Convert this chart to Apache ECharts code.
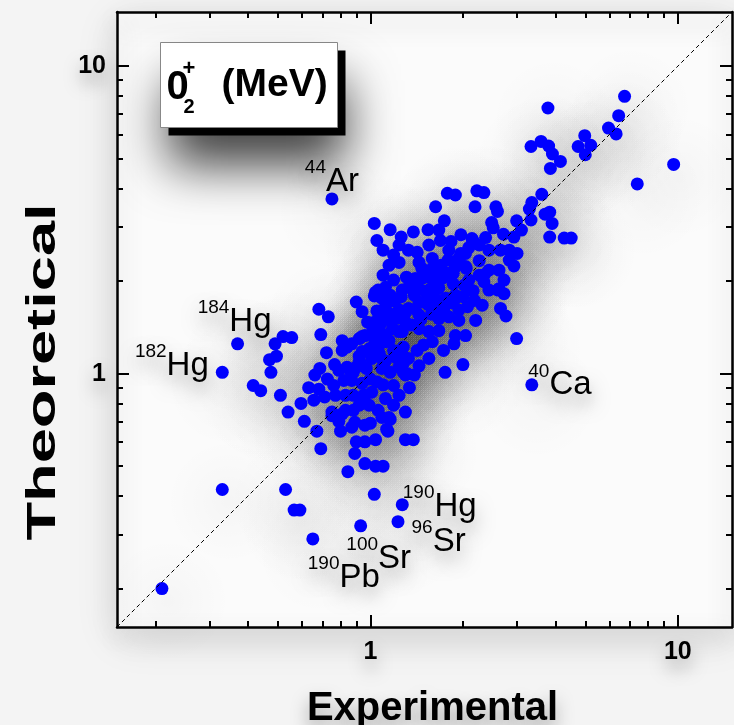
<!DOCTYPE html>
<html>
<head>
<meta charset="utf-8">
<title>0+2 energies: theoretical vs experimental</title>
<script src="https://cdn.jsdelivr.net/npm/echarts@6/dist/echarts.min.js"></script>
<style>
  html, body { margin: 0; padding: 0; background: #f4f4f4; }
  #chart { width: 734px; height: 725px; }
</style>
</head>
<body>
<div id="chart"></div>
<script>
// experimental / theoretical 0+2 energies (MeV), same order in both arrays
// first 8 entries are the labelled nuclei
const experimental = [
  0.75, 0.33, 0.37, 3.35, 1.27, 1.23, 0.93, 0.65, 0.21, 0.33,
  0.53, 0.565, 0.59, 1.03, 6.71, 3.78, 6.42, 5.95, 6.30, 4.98,
  4.74, 5.21, 5.00, 3.33, 3.59, 3.80, 3.91, 4.15, 3.85, 9.69,
  7.38, 3.61, 3.35, 3.29, 3.70, 3.83, 3.90, 3.33, 2.99, 3.10,
  2.71, 2.93, 3.83, 4.27, 4.50, 1.78, 1.89, 2.22, 2.34, 1.63,
  2.19, 2.56, 2.59, 1.74, 2.48, 2.51, 1.16, 1.26, 1.38, 1.54,
  1.67, 1.97, 2.14, 2.37, 1.03, 1.05, 1.83, 1.69, 2.15, 2.65,
  2.83, 3.00, 2.43, 2.26, 2.09, 2.04, 1.97, 1.94, 1.42, 1.59,
  1.79, 2.26, 2.83, 2.93, 1.47, 1.59, 2.04, 1.89, 1.31, 1.40,
  1.67, 1.78, 2.34, 1.86, 2.02, 2.62, 1.33, 1.44, 1.55, 2.11,
  1.12, 1.04, 1.27, 2.60, 2.72, 2.65, 2.76, 2.31, 2.20, 2.07,
  1.80, 1.67, 1.89, 2.04, 1.87, 1.59, 1.42, 1.28, 1.44, 1.55,
  1.30, 1.33, 1.44, 1.51, 1.59, 1.76, 1.89, 1.27, 2.99, 2.00,
  1.75, 1.34, 1.30, 1.38, 1.24, 1.28, 1.32, 1.14, 1.15, 1.10,
  0.49, 0.52, 0.555, 0.47, 0.495, 0.475, 0.416, 0.44, 0.51, 0.54,
  0.595, 0.61, 0.67, 0.69, 0.845, 0.68, 0.73, 0.69, 0.72, 0.765,
  0.685, 0.66, 0.725, 0.63, 0.68, 0.655, 0.71, 0.77, 0.75, 0.79,
  0.83, 0.80, 0.87, 0.90, 0.94, 1.03, 0.81, 0.87, 0.94, 0.84,
  0.90, 0.97, 0.90, 0.96, 1.04, 0.89, 0.96, 1.04, 0.84, 0.81,
  0.98, 1.09, 1.16, 1.06, 0.92, 0.96, 1.03, 0.88, 0.92, 0.94,
  1.00, 1.06, 1.12, 1.03, 1.08, 1.15, 1.21, 1.24, 1.18, 1.04,
  1.09, 0.87, 0.94, 1.00, 1.05, 0.83, 0.88, 0.96, 1.01, 1.09,
  1.16, 1.30, 1.10, 1.12, 1.27, 1.21, 0.75, 0.81, 0.88, 0.89,
  0.96, 1.00, 1.09, 1.16, 1.13, 1.30,
  1.10, 1.19, 1.15, 1.24, 1.10, 1.19, 1.44, 1.55, 1.67, 1.19,
  1.24, 1.39, 1.44, 1.55, 1.67, 1.73, 1.94, 1.94, 1.67, 1.49,
  1.73, 1.15, 1.19, 1.33, 1.44, 1.55, 1.10, 1.39, 1.19, 1.24,
  0.99, 1.06, 1.19, 0.95, 0.92, 0.82, 0.79, 0.76, 2.09, 2.26,
  2.43, 2.43, 2.18, 1.87, 2.62, 2.72, 1.80, 1.55, 1.33, 1.24,
  1.05, 1.12, 1.20, 1.26, 1.35, 1.48, 1.62, 1.70, 1.02, 1.08,
  1.14, 1.22, 1.30, 1.40, 1.52, 1.60, 0.98, 1.05, 1.13, 1.36,
  1.46, 1.58, 1.68, 1.84, 2.00, 2.16, 2.35, 1.12, 1.20, 1.28,
  0.92, 0.99, 1.07, 0.86, 0.93, 1.01, 1.60, 1.72, 1.86, 2.05
];
const theoretical = [
  3.70, 1.01, 1.25, 0.92, 0.375, 0.33, 0.32, 0.29, 0.20, 0.42,
  0.42, 0.36, 0.36, 0.405, 7.98, 7.31, 6.90, 6.29, 6.02, 5.94,
  5.48, 5.53, 5.15, 5.48, 5.69, 5.50, 5.18, 4.90, 4.65, 4.79,
  4.14, 3.83, 3.60, 3.43, 3.30, 3.35, 3.08, 3.16, 3.14, 2.93,
  2.84, 2.78, 2.78, 2.76, 2.76, 3.86, 3.81, 3.93, 3.88, 3.49,
  3.49, 3.49, 3.37, 3.14, 3.10, 2.98, 2.94, 2.78, 2.89, 2.94,
  2.93, 2.83, 2.75, 2.77, 3.08, 2.71, 2.69, 2.71, 2.72, 2.52,
  2.52, 2.46, 2.52, 2.62, 2.57, 2.46, 2.46, 2.37, 2.48, 2.37,
  2.34, 2.33, 2.34, 2.24, 2.20, 2.20, 2.23, 2.23, 2.06, 2.04,
  2.06, 2.12, 1.99, 1.96, 1.94, 1.89, 1.91, 1.89, 1.87, 1.87,
  1.91, 1.84, 1.87, 1.87, 1.82, 1.63, 1.54, 1.67, 1.49, 1.65,
  1.53, 1.51, 1.33, 1.33, 1.25, 1.27, 1.19, 1.22, 1.40, 1.37,
  1.47, 1.63, 1.71, 1.85, 1.63, 1.76, 1.80, 1.37, 1.30, 1.07,
  1.01, 0.90, 0.75, 0.61, 1.05, 1.01, 1.00, 0.65, 0.72, 0.50,
  1.25, 1.32, 1.31, 1.11, 1.14, 1.01, 0.915, 0.88, 0.85, 0.75,
  0.80, 0.70, 0.65, 0.57, 0.48, 1.62, 1.53, 1.34, 1.17, 1.07,
  1.04, 0.99, 0.96, 0.90, 0.89, 0.82, 0.84, 0.85, 0.73, 0.70,
  0.76, 0.65, 0.67, 1.71, 1.59, 1.79, 1.28, 1.25, 1.32, 1.05,
  1.05, 1.04, 0.60, 0.60, 0.61, 0.55, 0.51, 0.50, 1.22, 1.19,
  1.47, 1.76, 1.80, 1.87, 1.30, 1.33, 1.30, 1.01, 1.09, 1.18,
  1.21, 1.22, 1.27, 1.47, 1.53, 1.57, 1.51, 1.37, 1.40, 1.40,
  1.35, 0.95, 0.93, 0.96, 0.94, 0.85, 0.85, 0.85, 0.87, 1.04,
  1.01, 0.99, 0.92, 0.83, 1.15, 1.13, 0.75, 0.74, 0.76, 0.695,
  0.68, 0.69, 0.72, 0.71, 0.66, 0.61,
  2.52, 2.43, 2.25, 2.30, 2.09, 2.015, 2.30, 2.09, 1.90, 1.73,
  1.61, 1.80, 1.55, 1.67, 1.73, 1.61, 1.61, 1.49, 1.38, 1.24,
  1.19, 1.28, 1.19, 1.12, 1.06, 1.12, 1.105, 0.99, 0.915, 0.85,
  0.79, 0.76, 0.79, 0.85, 0.79, 0.95, 1.025, 0.915, 2.015, 2.09,
  2.17, 1.87, 1.73, 1.73, 2.17, 2.015, 2.52, 2.62, 2.52, 2.62,
  1.60, 1.66, 1.72, 1.78, 1.95, 2.05, 2.15, 2.25, 1.40, 1.45,
  1.50, 1.55, 1.58, 1.62, 1.70, 1.82, 1.18, 1.24, 1.30, 1.44,
  1.50, 1.56, 1.62, 1.70, 1.78, 1.86, 2.10, 1.10, 1.16, 1.08,
  1.14, 1.20, 1.16, 1.02, 1.08, 1.12, 2.00, 2.05, 2.12, 2.20
];
// labelled nuclei: index into the arrays above, mass number, element
const labelIndex = [0, 1, 2, 3, 4, 5, 6, 7];
const massNumber = ['44', '182', '184', '40', '190', '96', '100', '190'];
const element = ['Ar', 'Hg', 'Hg', 'Ca', 'Hg', 'Sr', 'Sr', 'Pb'];

const majorTicks = [1, 10];
const minorTicks = [0.2, 0.3, 0.4, 0.5, 0.6, 0.7, 0.8, 0.9, 2, 3, 4, 5, 6, 7, 8, 9];
const tickLabels = [1, 10];
const axisRange = [0.15, 15];
const diagonal = [[0.15, 0.15], [15, 15]];

const FONT = '"Liberation Sans", Arial, Helvetica, sans-serif';

// label placement for each labelled point (same order as labelIndex)
const labelPlace = [
  { position: 'top', distance: 0, offset: [0, 6] },
  { position: 'left', distance: 6, offset: [-1, -10] },
  { position: 'top', distance: 0, offset: [-3, 1] },
  { position: 'right', distance: 0, offset: [-10, -3] },
  { position: 'right', distance: 0, offset: [-6, -1] },
  { position: 'right', distance: 5, offset: [2, 17] },
  { position: 'bottom', distance: 0, offset: [18, 3] },
  { position: 'bottom', distance: 0, offset: [31, 9] }
];

const pairs = experimental.map(function (x, i) { return [x, theoretical[i]]; });

let points = pairs.map(function (p) { return { value: p }; });
labelIndex.forEach(function (idx, k) {
  points[idx].label = Object.assign({
    show: true,
    formatter: '{s|' + massNumber[k] + '}{e|' + element[k] + '}'
  }, labelPlace[k]);
});

const TEXT_SHADOW = { textShadowBlur: 18, textShadowColor: 'rgba(0,0,0,0.35)', textShadowOffsetY: 10 };

function logAxis(pos, ticks, len, withLine, withLabels) {
  return {
    type: 'log',
    position: pos,
    min: axisRange[0],
    max: axisRange[1],
    logBase: 10,
    splitLine: { show: false },
    axisLine: {
      show: withLine,
      onZero: false,
      lineStyle: { color: '#000', width: 2.5, shadowBlur: 24, shadowColor: 'rgba(0,0,0,0.3)', shadowOffsetY: 10 }
    },
    axisTick: {
      show: true,
      inside: true,
      length: len,
      customValues: ticks,
      lineStyle: { color: '#000', width: 2 }
    },
    axisLabel: withLabels ? Object.assign({
      show: true,
      customValues: tickLabels,
      margin: pos === 'bottom' ? 13 : 11,
      color: '#000',
      fontFamily: FONT,
      fontWeight: 'bold',
      fontSize: 25
    }, TEXT_SHADOW) : { show: false }
  };
}

let chart = echarts.init(document.getElementById('chart'));

let xMain = logAxis('bottom', majorTicks, 12, true, true);
xMain.name = 'Experimental';
xMain.nameLocation = 'middle';
xMain.nameGap = 62;
xMain.nameTextStyle = Object.assign({
  color: '#000', fontFamily: FONT, fontWeight: 'bold', fontSize: 40,
  padding: [0, 0, 0, 16]
}, TEXT_SHADOW);

// soft grey halo drawn under every point (the original figure has a blurred drop shadow)
const halo = {
  type: 'radial', x: 0.5, y: 0.5, r: 0.5,
  colorStops: [
    { offset: 0, color: 'rgba(0,0,0,0.03)' },
    { offset: 0.45, color: 'rgba(0,0,0,0.016)' },
    { offset: 1, color: 'rgba(0,0,0,0)' }
  ]
};

let option = {
  backgroundColor: '#f4f4f4',
  animation: false,
  grid: {
    left: 117, right: 2, top: 12, bottom: 98,
    outerBoundsMode: 'none',
    containLabel: false,
    show: true,
    backgroundColor: '#fbfbfb',
    borderWidth: 0,
    shadowBlur: 40,
    shadowColor: 'rgba(0,0,0,0.12)',
    shadowOffsetY: 10
  },
  xAxis: [
    xMain,
    logAxis('bottom', minorTicks, 6, false, false),
    logAxis('top', majorTicks, 12, true, false),
    logAxis('top', minorTicks, 6, false, false)
  ],
  yAxis: [
    logAxis('left', majorTicks, 12, true, true),
    logAxis('left', minorTicks, 6, false, false),
    logAxis('right', majorTicks, 12, true, false),
    logAxis('right', minorTicks, 6, false, false)
  ],
  graphic: [
    {
      // y axis title, stretched along its length like the original figure
      type: 'text',
      x: 44,
      y: 372,
      rotation: Math.PI / 2,
      scaleX: 1.58,
      style: {
        text: 'Theoretical',
        font: 'bold 40px ' + FONT,
        fill: '#000',
        align: 'center',
        verticalAlign: 'middle',
        shadowBlur: 18,
        shadowColor: 'rgba(0,0,0,0.35)',
        shadowOffsetY: 10
      }
    },
    {
      type: 'group',
      left: 160,
      top: 42,
      children: [
        {
          type: 'rect',
          shape: { x: 8, y: 8, width: 177, height: 85 },
          style: { fill: '#000', shadowBlur: 50, shadowColor: 'rgba(0,0,0,0.75)', shadowOffsetY: 30 }
        },
        {
          type: 'rect',
          shape: { x: 0, y: 0, width: 177, height: 85 },
          style: { fill: '#fff', stroke: '#888', lineWidth: 1 }
        },
        {
          type: 'text', x: 6, y: 45,
          style: { text: '0', font: 'bold 40px ' + FONT, fill: '#000', verticalAlign: 'middle' }
        },
        {
          type: 'text', x: 22, y: 26,
          style: { text: '+', font: 'bold 22px ' + FONT, fill: '#000', verticalAlign: 'middle' }
        },
        {
          type: 'text', x: 23, y: 65,
          style: { text: '2', font: 'bold 20px ' + FONT, fill: '#000', verticalAlign: 'middle' }
        },
        {
          type: 'text', x: 61, y: 43,
          style: { text: '(MeV)', font: 'bold 39px ' + FONT, fill: '#000', verticalAlign: 'middle' }
        }
      ]
    }
  ],
  series: [
    {
      // grey halo layer under the points
      type: 'scatter',
      xAxisIndex: 0,
      yAxisIndex: 0,
      symbol: 'circle',
      symbolSize: 125,
      symbolOffset: [6, 12],
      data: pairs,
      silent: true,
      itemStyle: { color: halo },
      emphasis: { disabled: true },
      z: 1
    },
    {
      type: 'scatter',
      xAxisIndex: 0,
      yAxisIndex: 0,
      symbol: 'circle',
      symbolSize: 13,
      data: points,
      itemStyle: { color: '#0000ff', opacity: 1 },
      label: Object.assign({
        show: false,
        color: '#000',
        fontFamily: FONT,
        rich: {
          s: { fontSize: 19, lineHeight: 19, verticalAlign: 'top', fontFamily: FONT, color: '#000' },
          e: { fontSize: 33, lineHeight: 40, verticalAlign: 'bottom', fontFamily: FONT, color: '#000' }
        }
      }, TEXT_SHADOW),
      emphasis: { disabled: true },
      z: 2
    },
    {
      type: 'line',
      xAxisIndex: 0,
      yAxisIndex: 0,
      data: diagonal,
      symbol: 'none',
      silent: true,
      lineStyle: { color: '#000', width: 1, type: [4, 3] },
      z: 3
    }
  ]
};

chart.setOption(option);
</script>
</body>
</html>
